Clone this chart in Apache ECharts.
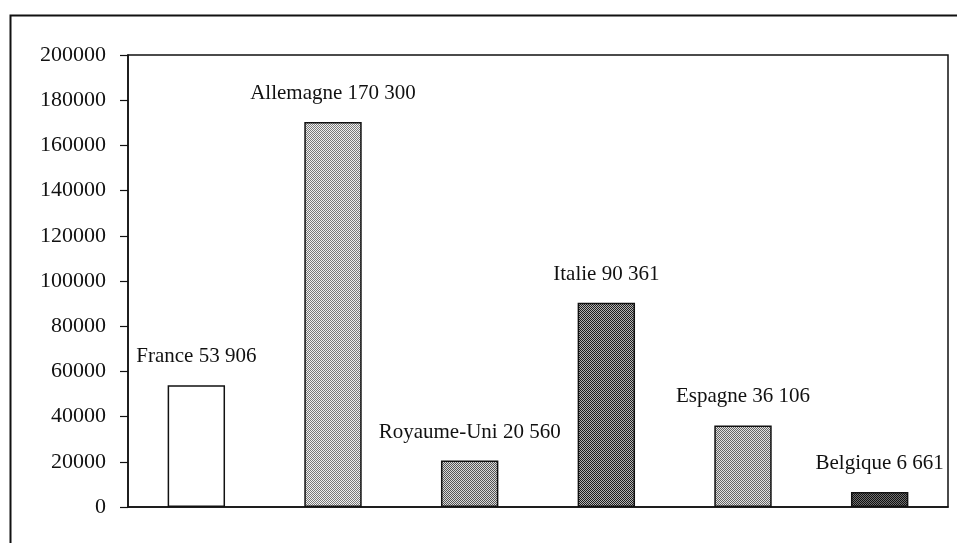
<!DOCTYPE html>
<html>
<head>
<meta charset="utf-8">
<script src="https://cdn.jsdelivr.net/npm/echarts@6/dist/echarts.min.js"></script>
<style>
  html, body { margin: 0; padding: 0; background: #fff; }
  #chart { width: 957px; height: 543px; }
</style>
</head>
<body>
<div id="chart"></div>
<script>
const countries = ['France', 'Allemagne', 'Royaume-Uni', 'Italie', 'Espagne', 'Belgique']
const values = [53906, 170300, 20560, 90361, 36106, 6661]
const yTicks = [0, 20000, 40000, 60000, 80000, 100000, 120000, 140000, 160000, 180000, 200000]

// little dotted fills, like the old print patterns
const dots = (dark, light) => {
    let c = document.createElement('canvas')
    c.width = 2
    c.height = 2
    let ctx = c.getContext('2d')
    ctx.fillStyle = light
    ctx.fillRect(0, 0, 2, 2)
    ctx.fillStyle = dark
    ctx.fillRect(0, 0, 1, 1)
    ctx.fillRect(1, 1, 1, 1)
    return { image: c, repeat: 'repeat' }
}

const fills = [
    '#ffffff',
    dots('#7a7a7a', '#f0f0f0'),
    dots('#555555', '#d8d8d8'),
    dots('#1e1e1e', '#b4b4b4'),
    dots('#666666', '#e2e2e2'),
    dots('#101010', '#707070')
]

const spaced = n => String(n).replace(/\B(?=(\d{3})+(?!\d))/g, ' ')

let Charts = echarts.init(document.getElementById('chart'))
Charts.setOption({
    animation: false,
    textStyle: {
        fontFamily: 'Liberation Serif'
    },
    graphic: [{
        type: 'rect',
        left: 8,
        top: 13,
        shape: { width: 980, height: 580 },
        style: { fill: 'none', stroke: '#111', lineWidth: 2 },
        silent: true
    }],
    grid: {
        left: 128,
        right: 9,
        top: 55,
        bottom: 36,
        show: true,
        borderColor: '#111',
        borderWidth: 1.5
    },
    xAxis: {
        type: 'category',
        data: countries,
        axisLine: { lineStyle: { color: '#111', width: 1.5 } },
        axisTick: { show: false },
        axisLabel: { show: false }
    },
    yAxis: {
        type: 'value',
        min: yTicks[0],
        max: yTicks[yTicks.length - 1],
        interval: yTicks[1] - yTicks[0],
        axisLine: { show: true, lineStyle: { color: '#111', width: 1.5 } },
        axisTick: { show: true, length: 8, lineStyle: { color: '#111', width: 1.2 } },
        axisLabel: {
            color: '#111',
            fontSize: 22,
            fontFamily: 'Liberation Serif',
            margin: 22,
            formatter: v => String(v)
        },
        splitLine: { show: false }
    },
    series: [{
        type: 'bar',
        barWidth: '42%',
        data: values.map((v, i) => ({
            value: v,
            itemStyle: { color: fills[i] }
        })),
        itemStyle: {
            borderColor: '#111',
            borderWidth: 1.5
        },
        label: {
            show: true,
            position: 'top',
            distance: 18,
            color: '#111',
            fontSize: 21,
            fontFamily: 'Liberation Serif',
            formatter: p => countries[p.dataIndex] + ' ' + spaced(p.value)
        }
    }]
})
</script>
</body>
</html>
